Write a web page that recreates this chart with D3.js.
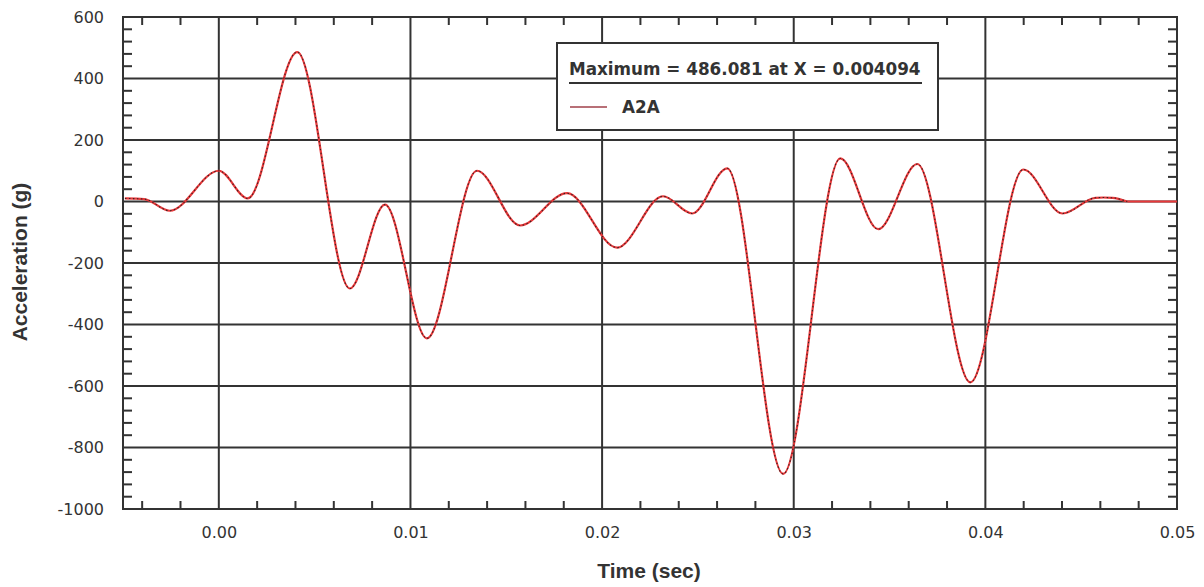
<!DOCTYPE html>
<html><head><meta charset="utf-8">
<script src="https://cdn.jsdelivr.net/npm/d3@7"></script>
<style>body{margin:0;background:#fff}svg{display:block}</style>
</head><body><svg id="c" width="1204" height="587"></svg>
<script>
// Time (sec) and acceleration (g) (turning points)
const times = [-0.0049,-0.0039,-0.00256,0.0000,0.00151,0.004094,0.00684,0.00867,0.01086,0.01347,0.01572,0.01817,0.02078,0.02318,0.0247,0.02653,0.02945,0.03243,0.03441,0.03645,0.03922,0.04198,0.04402,0.04574,0.04616,0.04663,0.0474];
const accel = [10,8,-30,100,10,486.081,-283,-10,-445,100,-78,27,-150,17,-39,108,-886,140,-90,122,-588,104,-39,12,13,12,0];
const tailTimes = [0.0474,0.05];
const tailAccel = [0,0];
const xTicks = [0.00,0.01,0.02,0.03,0.04,0.05];
const yTicks = [-1000,-800,-600,-400,-200,0,200,400,600];
const seriesName = "A2A";
const maxLabel = "Maximum = 486.081 at X = 0.004094";

const svg = d3.select("#c");
const L=123,R=1177,T=17,B=509;
const x = d3.scaleLinear().domain([-0.005,0.05]).range([L,R]);
const y = d3.scaleLinear().domain([-1000,600]).range([B,T]);
const ink="#333";

// minor ticks
const xMinor = d3.range(-0.004,0.0501,0.002).filter(v=>Math.abs(Math.round(v*100)-v*100)>1e-6);
const yMinor = d3.range(-960,600,40).filter(v=>v%200!==0);
const g = svg.append("g");
g.selectAll(".xmb").data(xMinor).join("line").attr("x1",d=>x(d)).attr("x2",d=>x(d)).attr("y1",B).attr("y2",B-8).attr("stroke",ink).attr("stroke-width",2);
g.selectAll(".xmt").data(xMinor).join("line").attr("x1",d=>x(d)).attr("x2",d=>x(d)).attr("y1",T).attr("y2",T+8).attr("stroke",ink).attr("stroke-width",2);
g.selectAll(".yml").data(yMinor).join("line").attr("x1",L).attr("x2",L+9).attr("y1",d=>y(d)).attr("y2",d=>y(d)).attr("stroke",ink).attr("stroke-width",2);
g.selectAll(".ymr").data(yMinor).join("line").attr("x1",R).attr("x2",R-9).attr("y1",d=>y(d)).attr("y2",d=>y(d)).attr("stroke",ink).attr("stroke-width",2);

// grid
g.selectAll(".gx").data(xTicks.slice(0,-1)).join("line").attr("x1",d=>x(d)).attr("x2",d=>x(d)).attr("y1",T).attr("y2",B).attr("stroke",ink).attr("stroke-width",2);
g.selectAll(".gy").data(yTicks.slice(1,-1)).join("line").attr("x1",L).attr("x2",R).attr("y1",d=>y(d)).attr("y2",d=>y(d)).attr("stroke",ink).attr("stroke-width",2);
svg.append("rect").attr("x",L).attr("y",T).attr("width",R-L).attr("height",B-T).attr("fill","none").attr("stroke",ink).attr("stroke-width",2);

// axes labels
const xa = svg.append("g").attr("transform",`translate(0,${B})`).call(d3.axisBottom(x).tickValues(xTicks).tickSize(0).tickPadding(18).tickFormat(d=>d.toFixed(2)));
xa.select(".domain").remove();
xa.selectAll("text").attr("font-family","DejaVu Sans").attr("font-size",16).attr("fill",ink);
const ya = svg.append("g").attr("transform",`translate(${L},0)`).call(d3.axisLeft(y).tickValues(yTicks).tickSize(0).tickPadding(19).tickFormat(d=>String(d)));
ya.select(".domain").remove();
ya.selectAll("text").attr("font-family","DejaVu Sans").attr("font-size",16).attr("fill",ink);

svg.append("text").attr("x",649).attr("y",578).attr("text-anchor","middle").attr("font-family","Liberation Sans, Arial").attr("font-weight","bold").attr("font-size",21).attr("fill",ink).text("Time (sec)");
svg.append("text").attr("transform","translate(27,262) rotate(-90)").attr("text-anchor","middle").attr("font-family","Liberation Sans, Arial").attr("font-weight","bold").attr("font-size",21).attr("fill",ink).text("Acceleration (g)");

// curve
const pts = times.map((t,i)=>[t,accel[i]]);
const tail = tailTimes.map((t,i)=>[t,tailAccel[i]]);
const line = d3.line().x(d=>x(d[0])).y(d=>y(d[1])).curve(d3.curveMonotoneX);
const lineT = d3.line().x(d=>x(d[0])).y(d=>y(d[1]));
svg.append("path").attr("d",line(pts)).attr("fill","none").attr("stroke","#e8383a").attr("stroke-width",2.2);
svg.append("path").attr("d",lineT(tail)).attr("fill","none").attr("stroke","#e8383a").attr("stroke-width",2.2);
svg.append("path").attr("d",line(pts)).attr("fill","none").attr("stroke","#3a2222").attr("stroke-width",1.1).attr("stroke-dasharray","1.5,2.5");

// legend
const lg = svg.append("g");
lg.append("rect").attr("x",557).attr("y",43).attr("width",381).attr("height",87).attr("fill","#fff").attr("stroke",ink).attr("stroke-width",2);
lg.append("text").attr("x",569).attr("y",75).attr("font-family","DejaVu Sans").attr("font-weight","bold").attr("font-size",16.8).attr("fill",ink).text(maxLabel);
lg.append("line").attr("x1",569).attr("x2",922).attr("y1",83).attr("y2",83).attr("stroke",ink).attr("stroke-width",2);
lg.append("line").attr("x1",570).attr("x2",607).attr("y1",107).attr("y2",107).attr("stroke","#a0404a").attr("stroke-width",1.5);
lg.append("text").attr("x",622).attr("y",113).attr("font-family","DejaVu Sans").attr("font-weight","bold").attr("font-size",16.8).attr("fill",ink).text(seriesName);
</script></body></html>
